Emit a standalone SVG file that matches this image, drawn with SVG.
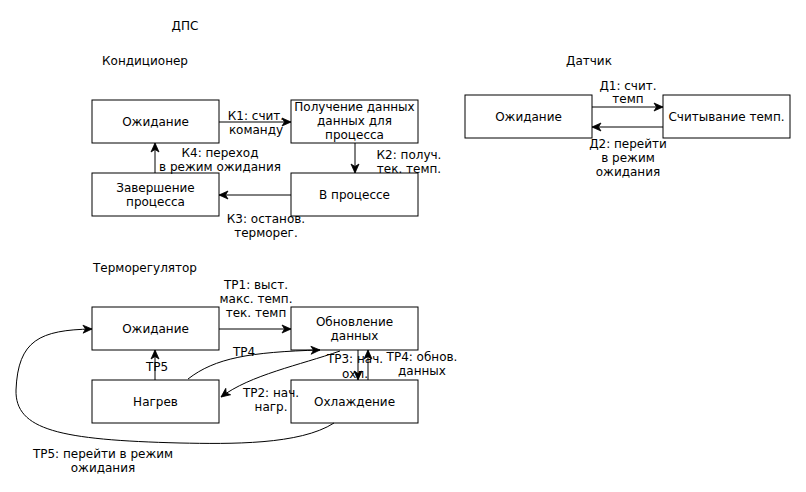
<svg xmlns="http://www.w3.org/2000/svg" width="806" height="492" viewBox="0 0 806 492">
<style>
.n{fill:#fff;stroke:#000;stroke-width:1}
text{font-family:"DejaVu Sans",sans-serif;font-size:12px;fill:#000;text-anchor:middle}
.c{fill:none;stroke:#000;stroke-width:1}
</style>
<defs>
<marker id="a" markerWidth="12" markerHeight="12" refX="10" refY="6" orient="auto" markerUnits="userSpaceOnUse">
<path d="M1,2 L10,6 L1,10 L3.5,6 Z" fill="#000" stroke="#000" stroke-width="0.8"/>
</marker>
</defs>
<rect width="806" height="492" fill="#fff"/>
<text x="185" y="30">ДПС</text>
<text x="145" y="65">Кондиционер</text>
<text x="589" y="65">Датчик</text>
<text x="145" y="272">Терморегулятор</text>

<g id="k-wait"><rect class="n" x="92" y="100" width="127" height="43"/><text x="155.5" y="126">Ожидание</text></g>
<g id="k-get"><rect class="n" x="291" y="100" width="127" height="43"/><text x="354.5" y="111">Получение данных</text><text x="354.5" y="125">данных для</text><text x="354.5" y="139">процесса</text></g>
<g id="k-end"><rect class="n" x="92" y="173" width="127" height="43"/><text x="155.5" y="192">Завершение</text><text x="155.5" y="206">процесса</text></g>
<g id="k-proc"><rect class="n" x="291" y="173" width="127" height="43"/><text x="354.5" y="199">В процессе</text></g>

<g id="d-wait"><rect class="n" x="465" y="95" width="127" height="43"/><text x="528.5" y="121">Ожидание</text></g>
<g id="d-read"><rect class="n" x="663" y="95" width="127" height="43"/><text x="726.5" y="121">Считывание темп.</text></g>

<g id="t-wait"><rect class="n" x="92" y="307" width="127" height="43"/><text x="155.5" y="333">Ожидание</text></g>
<g id="t-upd"><rect class="n" x="291" y="307" width="127" height="43"/><text x="354.5" y="326">Обновление</text><text x="354.5" y="340">данных</text></g>
<g id="t-heat"><rect class="n" x="92" y="380" width="127" height="43"/><text x="155.5" y="406">Нагрев</text></g>
<g id="t-cool"><rect class="n" x="291" y="380" width="127" height="43"/><text x="354.5" y="406">Охлаждение</text></g>

<g id="connectors">
<path class="c" d="M219,122 H291" marker-end="url(#a)"/>
<path class="c" d="M355,143 V173" marker-end="url(#a)"/>
<path class="c" d="M291,195 H219" marker-end="url(#a)"/>
<path class="c" d="M155,173 V143" marker-end="url(#a)"/>
<path class="c" d="M592,107 H663" marker-end="url(#a)"/>
<path class="c" d="M663,127 H592" marker-end="url(#a)"/>
<path class="c" d="M219,329 H291" marker-end="url(#a)"/>
<path class="c" d="M155,380 V350" marker-end="url(#a)"/>
<path class="c" d="M188,379 C215,358 250,352 320,350" marker-end="url(#a)"/>
<path class="c" d="M340,351 C300,365 250,375 221,397" marker-end="url(#a)"/>
<path class="c" d="M358,350 V380" marker-end="url(#a)"/>
<path class="c" d="M368,380 V350" marker-end="url(#a)"/>
<path class="c" d="M334,423 C300,445 230,444 180,443 C60,440 15,430 16,390 C18,340 40,330 92,329" marker-end="url(#a)"/>
</g>

<g id="labels">
<text x="256" y="120">К1: счит.</text><text x="256" y="134">команду</text>
<text x="409" y="159">К2: получ.</text><text x="409" y="173">тек. темп.</text>
<text x="266" y="223">К3: останов.</text><text x="266" y="237">терморег.</text>
<text x="220" y="157">К4: переход</text><text x="220" y="171">в режим ожидания</text>
<text x="628" y="90">Д1: счит.</text><text x="628" y="103">темп</text>
<text x="628" y="148">Д2: перейти</text><text x="628" y="162">в режим</text><text x="628" y="176">ожидания</text>
<text x="256" y="289">ТР1: выст.</text><text x="256" y="303">макс. темп.</text><text x="256" y="317">тек. темп</text>
<text x="157" y="371">ТР5</text>
<text x="244" y="356">ТР4</text>
<text x="271" y="397">ТР2: нач.</text><text x="271" y="411">нагр.</text>
<text x="355" y="363">ТР3: нач.</text><text x="355" y="378">охл.</text>
<text x="422" y="361">ТР4: обнов.</text><text x="422" y="375">данных</text>
<text x="103" y="458">ТР5: перейти в режим</text><text x="103" y="472">ожидания</text>
</g>
</svg>
